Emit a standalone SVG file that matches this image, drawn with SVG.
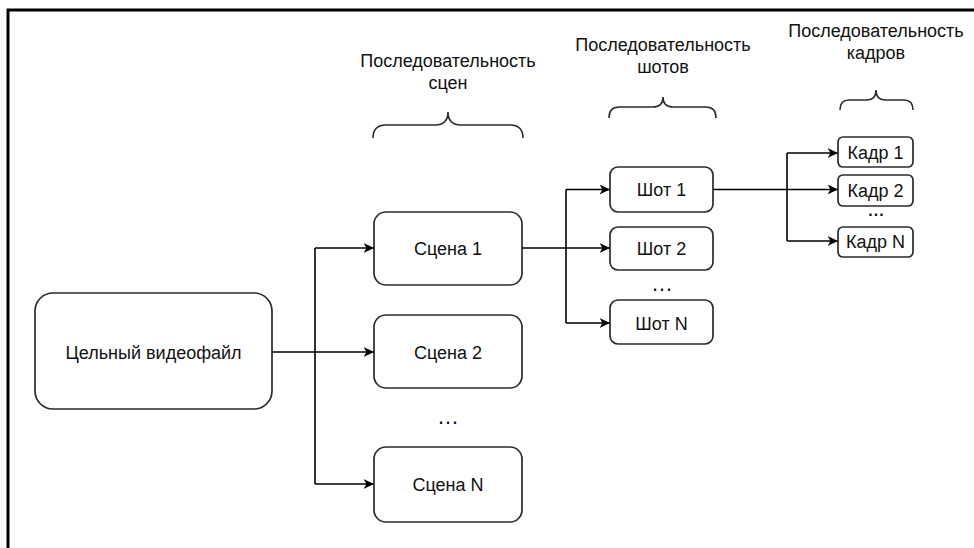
<svg xmlns="http://www.w3.org/2000/svg" width="974" height="548" viewBox="0 0 974 548">
  <style>
    .box { fill: #ffffff; stroke: #2b2b2b; stroke-width: 1.7; }
    .lbl { font-family: "Liberation Sans", Arial, sans-serif; font-size: 18px; fill: #111111; text-anchor: middle; }
    .dots { font-family: "Liberation Sans", Arial, sans-serif; font-size: 22px; fill: #111111; text-anchor: middle; }
    .dots-sm { font-family: "Liberation Sans", Arial, sans-serif; font-size: 16px; font-weight: bold; letter-spacing: 1px; fill: #111111; text-anchor: middle; }
    .wire { fill: none; stroke: #000000; stroke-width: 1.6; }
    .arr { marker-end: url(#tip); }
    .brace { fill: none; stroke: #2b2b2b; stroke-width: 1.6; }
  </style>
  <defs>
    <marker id="tip" markerUnits="userSpaceOnUse" markerWidth="12" markerHeight="11" refX="10.5" refY="5" orient="auto">
      <path d="M0,0 L10.5,5 L0,10 L3,5 Z" fill="#000000"/>
    </marker>
  </defs>

  <rect width="974" height="548" fill="#ffffff"/>
  <!-- outer frame (left and top edges) -->
  <path d="M8,548 V10 H974" fill="none" stroke="#000000" stroke-width="3"/>

  <!-- column headings with braces -->
  <g id="heading-scenes">
    <text class="lbl" x="448" y="67">Последовательность</text>
    <text class="lbl" x="448" y="89">сцен</text>
    <path class="brace" d="M373,138 Q373,125 386,125 H435 Q448,125 448,112 Q448,125 461,125 H510 Q523,125 523,138"/>
  </g>
  <g id="heading-shots">
    <text class="lbl" x="663" y="51">Последовательность</text>
    <text class="lbl" x="663" y="73">шотов</text>
    <path class="brace" d="M609,118 Q609,107 619,107 H653 Q663,107 663,97 Q663,107 673,107 H706 Q716,107 716,118"/>
  </g>
  <g id="heading-frames">
    <text class="lbl" x="876" y="37">Последовательность</text>
    <text class="lbl" x="876" y="59">кадров</text>
    <path class="brace" d="M840,110 Q840,100 849,100 H867 Q876,100 876,90 Q876,100 885,100 H904 Q913,100 913,110"/>
  </g>

  <!-- connectors -->
  <g id="connectors">
    <path class="wire" d="M272,352 H315"/>
    <path class="wire" d="M315,248 V484"/>
    <path class="wire arr" d="M315,248 H374"/>
    <path class="wire arr" d="M315,352 H374"/>
    <path class="wire arr" d="M315,484 H374"/>

    <path class="wire" d="M522,248 H566"/>
    <path class="wire" d="M566,189.5 V323"/>
    <path class="wire arr" d="M566,189.5 H610"/>
    <path class="wire arr" d="M566,248 H610"/>
    <path class="wire arr" d="M566,323 H610"/>

    <path class="wire" d="M713,189.5 H787"/>
    <path class="wire" d="M787,153 V241"/>
    <path class="wire arr" d="M787,153 H838"/>
    <path class="wire arr" d="M787,189.5 H838"/>
    <path class="wire arr" d="M787,241 H838"/>
  </g>

  <!-- source file -->
  <g id="video">
    <rect class="box" x="35" y="293" width="237" height="116" rx="18"/>
    <text class="lbl" x="153.5" y="358.5">Цельный видеофайл</text>
  </g>

  <!-- scenes -->
  <g id="scene-1">
    <rect class="box" x="374" y="212" width="148" height="73" rx="12"/>
    <text class="lbl" x="448" y="255">Сцена 1</text>
  </g>
  <g id="scene-2">
    <rect class="box" x="374" y="315" width="148" height="73" rx="12"/>
    <text class="lbl" x="448" y="359">Сцена 2</text>
  </g>
  <text class="dots" x="448" y="424">…</text>
  <g id="scene-n">
    <rect class="box" x="374" y="447" width="148" height="75" rx="12"/>
    <text class="lbl" x="448" y="491">Сцена N</text>
  </g>

  <!-- shots -->
  <g id="shot-1">
    <rect class="box" x="610" y="167" width="103" height="45" rx="8"/>
    <text class="lbl" x="661.5" y="196">Шот 1</text>
  </g>
  <g id="shot-2">
    <rect class="box" x="610" y="227" width="103" height="43" rx="8"/>
    <text class="lbl" x="661.5" y="255">Шот 2</text>
  </g>
  <text class="dots" x="662" y="291">…</text>
  <g id="shot-n">
    <rect class="box" x="610" y="300" width="103" height="44" rx="8"/>
    <text class="lbl" x="661.5" y="329.5">Шот N</text>
  </g>

  <!-- frames -->
  <g id="frame-1">
    <rect class="box" x="838" y="137" width="75" height="30" rx="5"/>
    <text class="lbl" x="875.5" y="158.5">Кадр 1</text>
  </g>
  <g id="frame-2">
    <rect class="box" x="838" y="175" width="75" height="31" rx="5"/>
    <text class="lbl" x="875.5" y="197">Кадр 2</text>
  </g>
  <text class="dots-sm" x="876.5" y="216">...</text>
  <g id="frame-n">
    <rect class="box" x="838" y="227" width="75" height="30" rx="5"/>
    <text class="lbl" x="875.5" y="248">Кадр N</text>
  </g>
</svg>
